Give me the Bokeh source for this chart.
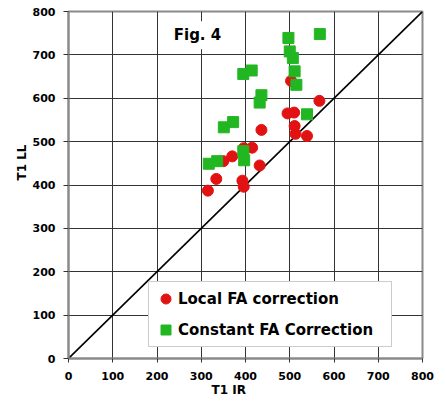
from bokeh.plotting import figure
from bokeh.models import FixedTicker, Label, Range1d, Title
from bokeh.embed import file_html
from bokeh.resources import INLINE

# Data
local_ir = [567, 503, 495, 510, 511, 513, 539, 436, 415, 396, 370, 350, 432, 334, 315, 393, 396]
local_ll = [594, 640, 565, 567, 536, 518, 513, 527, 486, 485, 466, 455, 445, 414, 387, 410, 396]

const_ir = [568, 497, 500, 507, 511, 515, 539, 436, 432, 414, 395, 351, 372, 317, 336, 395, 397]
const_ll = [748, 739, 708, 693, 662, 631, 563, 607, 590, 664, 656, 533, 545, 449, 455, 478, 457]

identity_x = [0, 800]
identity_y = [0, 800]

ticks = [0, 100, 200, 300, 400, 500, 600, 700, 800]

FONT = "DejaVu Sans"

p = figure(width=446, height=402, output_backend="svg", toolbar_location=None,
           x_range=Range1d(0, 800), y_range=Range1d(0, 800))
p.min_border_left = 68
p.min_border_right = 24
p.min_border_top = 11
p.min_border_bottom = 44
p.background_fill_color = "white"
p.border_fill_color = "white"
p.outline_line_color = "#8a8a8a"
p.outline_line_width = 2

for ax in (p.xaxis[0], p.yaxis[0]):
    ax.ticker = FixedTicker(ticks=ticks)
    ax.axis_line_color = "#8a8a8a"
    ax.axis_line_width = 2
    ax.major_tick_line_color = "#333333"
    ax.minor_tick_line_color = None
    ax.major_tick_in = 0
    ax.major_label_text_font = FONT
    ax.major_label_text_font_style = "bold"
    ax.major_label_text_font_size = "11px"
    ax.major_label_text_color = "black"

p.xaxis.major_tick_out = 4
p.xaxis.major_label_standoff = 9
p.yaxis.major_tick_out = 5
p.yaxis.major_label_standoff = 8

for g in (p.xgrid[0], p.ygrid[0]):
    g.ticker = FixedTicker(ticks=ticks)
    g.grid_line_color = "#333333"
    g.grid_line_width = 1

p.line(identity_x, identity_y, line_color="black", line_width=1.6)

p.scatter(local_ir, local_ll, marker="circle", size=11, fill_color="#e31212",
          line_color="#e31212", legend_label="Local FA correction")
p.scatter(const_ir, const_ll, marker="square", size=11, fill_color="#22b722",
          line_color="#22b722", legend_label="Constant FA Correction")

lg = p.legend[0]
lg.location = (80, 11)
lg.glyph_width = 25
lg.glyph_height = 25
lg.label_height = 25
lg.padding = 4
lg.spacing = 6
lg.label_standoff = 0
lg.label_width = 209
lg.label_text_font = FONT
lg.label_text_font_style = "bold"
lg.label_text_font_size = "15px"
lg.label_text_color = "black"
lg.border_line_color = "#999999"
lg.border_line_width = 1
lg.background_fill_color = "white"
lg.background_fill_alpha = 1.0

p.add_layout(Label(x=291.5, y=745, text="Fig. 4", text_align="center", text_baseline="middle",
                   text_font=FONT, text_font_style="bold", text_font_size="15px",
                   text_color="black", background_fill_color="white", padding=5))

p.add_layout(Title(text="T1 IR", align="left", offset=143, standoff=-4,
                   text_font=FONT, text_font_style="bold", text_font_size="12px",
                   text_color="black"), "below")
p.add_layout(Title(text="T1 LL", align="left", offset=178, standoff=2,
                   text_font=FONT, text_font_style="bold", text_font_size="12px",
                   text_color="black"), "left")

open("out.html", "w").write(file_html(p, INLINE))
